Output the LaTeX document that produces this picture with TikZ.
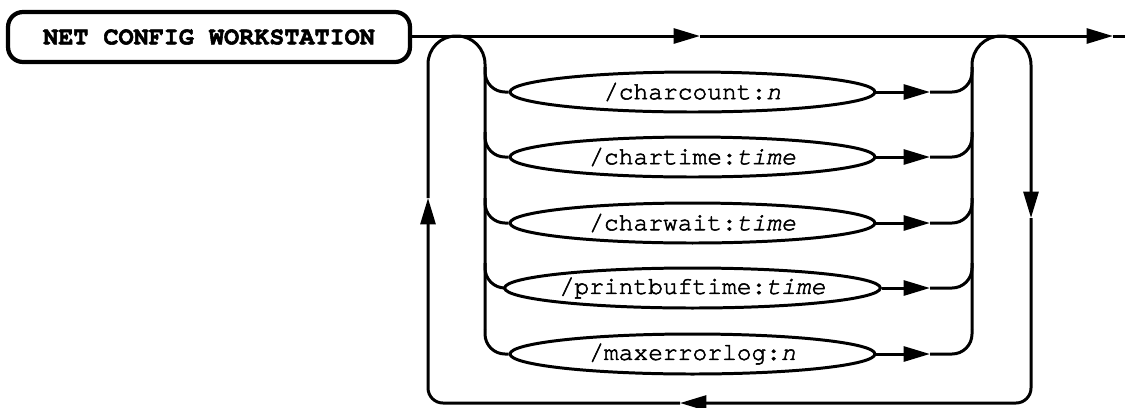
\documentclass[tikz,border=0pt]{standalone}
\usepackage{fontspec}
\setmonofont{TeX Gyre Cursor}[FakeBold=2.2]
\usetikzlibrary{arrows.meta,shapes.geometric}

\begin{document}
\begin{tikzpicture}[x=0.02cm,y=-0.02cm,line width=1.7pt,>={Triangle[length=15pt,width=8.5pt]},
  cmdnode/.style={rectangle,draw,rounded corners=0.3cm,line width=2.4pt,minimum width=8.04cm,minimum height=1cm,font=\ttfamily\bfseries\fontsize{14.3}{16}\selectfont},
  optnode/.style={ellipse,draw,inner sep=0pt,minimum width=7.3cm,minimum height=0.8cm,font=\ttfamily\fontsize{14}{16}\selectfont}]
  \useasboundingbox (0,0) rectangle (1125,407);
  \node[cmdnode] (cmd) at (209,37) {NET CONFIG WORKSTATION};
  \node[optnode] (o1) at (692.5,92) {/charcount:\textit{n}};
  \node[optnode] (o2) at (692.5,157) {/chartime:\textit{time}};
  \node[optnode] (o3) at (692.5,223) {/charwait:\textit{time}};
  \node[optnode] (o4) at (692.5,288) {/printbuftime:\textit{time}};
  \node[optnode] (o5) at (692.5,354) {/maxerrorlog:\textit{n}};
  % main line
  \coordinate (topmid) at (700,36);
  \coordinate (endtip) at (1113,36);
  \coordinate (out) at (1125,36);
  % loop corners
  \coordinate (ltl) at (428,36);
  \coordinate (ltr) at (485,36);
  \coordinate (rtl) at (972,36);
  \coordinate (rtr) at (1031,36);
  \coordinate (rbr) at (1031,403);
  \coordinate (lbl) at (428,403);
  \coordinate (downtip) at (1031,218);
  \coordinate (bottip) at (680,403);
  \coordinate (uptip) at (428,198);
  % branch points
  \coordinate (lin1) at (485,67);
  \coordinate (lin2) at (485,132);
  \coordinate (lin3) at (485,198);
  \coordinate (lin4) at (485,263);
  \coordinate (lin5) at (485,329);
  \coordinate (rin1) at (972,67);
  \coordinate (rin2) at (972,132);
  \coordinate (rin3) at (972,198);
  \coordinate (rin4) at (972,263);
  \coordinate (rin5) at (972,329);
  \coordinate (rtip1) at (930,92);
  \coordinate (rtip2) at (930,157);
  \coordinate (rtip3) at (930,223);
  \coordinate (rtip4) at (930,288);
  \coordinate (rtip5) at (930,354);
  \draw[->] (cmd.east |- topmid) -- (topmid);
  \draw[->] (topmid) -- (endtip);
  \draw (endtip) -- (out);
  % return loop
  \draw[->, rounded corners=0.58cm] (rin5) -- (rtl) -- (rtr) -- (downtip);
  \draw[->, rounded corners=0.3cm] (downtip) -- (rbr) -- (bottip);
  \draw[->, rounded corners=0.3cm] (bottip) -- (lbl) -- (uptip);
  \draw[rounded corners=0.56cm] (uptip) -- (ltl) -- (ltr) -- (lin5);
  % options
  \draw[rounded corners=0.4cm] (lin1) |- (o1.west);
  \draw[rounded corners=0.4cm] (lin2) |- (o2.west);
  \draw[rounded corners=0.4cm] (lin3) |- (o3.west);
  \draw[rounded corners=0.4cm] (lin4) |- (o4.west);
  \draw[rounded corners=0.4cm] (lin5) |- (o5.west);
  \draw[->] (o1.east) -- (rtip1);
  \draw[->] (o2.east) -- (rtip2);
  \draw[->] (o3.east) -- (rtip3);
  \draw[->] (o4.east) -- (rtip4);
  \draw[->] (o5.east) -- (rtip5);
  \draw[rounded corners=0.4cm] (rtip1) -| (rin1);
  \draw[rounded corners=0.4cm] (rtip2) -| (rin2);
  \draw[rounded corners=0.4cm] (rtip3) -| (rin3);
  \draw[rounded corners=0.4cm] (rtip4) -| (rin4);
  \draw[rounded corners=0.4cm] (rtip5) -| (rin5);
\end{tikzpicture}
\end{document}
